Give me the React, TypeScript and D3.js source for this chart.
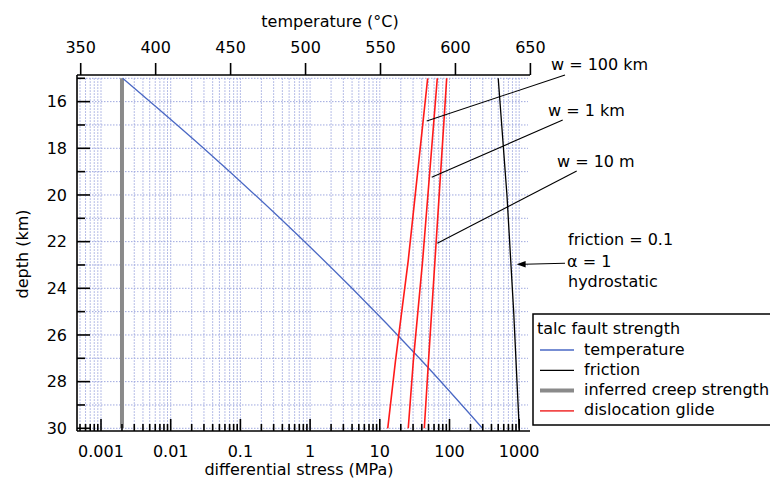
import React from "react";
import * as d3 from "d3";

// Talc fault strength profile vs. depth
const tempDepth = [15, 18, 21, 24, 27, 30];
const tempC = [378, 432, 483, 531, 576, 618];

const frictionDepth = [15, 20, 25, 30];
const frictionMPa = [500, 667, 833, 1000];

const creepDepth = [15, 30];
const creepMPa = [0.002, 0.002];

const glideDepth = [15, 22.8, 27.1, 30];
const glide100km = [48.6, 25.6, 16.8, 13.0];
const glide1km = [66.8, 41.2, 30.3, 25.6];
const glide10m = [91.2, 61.9, 50.0, 43.5];

const tempTicks = [350, 400, 450, 500, 550, 600, 650];
const stressTicks = [0.001, 0.01, 0.1, 1, 10, 100, 1000];
const stressTickLabels = ["0.001", "0.01", "0.1", "1", "10", "100", "1000"];
const depthTicks = d3.range(15, 31);
const depthTickLabels = [16, 18, 20, 22, 24, 26, 28, 30];

// leader anchors: [stress MPa, depth km]
const glideLabels = ["w = 100 km", "w = 1 km", "w = 10 m"];
const glideAnchors: [number, number][] = [
  [47.1, 16.83],
  [55.6, 19.24],
  [66.8, 22.07],
];
const frictionArrowTip: [number, number] = [918, 22.97];

const FONT = "'DejaVu Sans', 'Lucida Grande', sans-serif";
const BLUE = "#4a68c4";
const RED = "#ff1a1a";
const GRID = "#6070cc";

export default function App() {
  const W = 770;
  const H = 483;
  const left = 77;
  const right = 530;
  const top = 75;
  const bottom = 431;

  const y = d3.scaleLinear().domain([15, 30]).range([78.3, 428.3]);
  const x = d3.scaleLog().domain([0.001, 1000]).range([101, 519.2]);
  const t = d3.scaleLinear().domain([350, 650]).range([80.7, 530.4]);

  const allStress = d3
    .scaleLog()
    .domain([x.invert(left + 0.5), x.invert(right - 0.5)])
    .ticks();
  const isMajor = (v: number) =>
    Math.abs(Math.log10(v) - Math.round(Math.log10(v))) < 1e-6;

  const stressLine = (vals: number[], depths: number[]) =>
    d3
      .line<number>()
      .x((v) => x(v))
      .y((_, i) => y(depths[i]))(vals) || "";

  const tempPath =
    d3
      .line<number>()
      .x((v) => t(v))
      .y((_, i) => y(tempDepth[i]))
      .curve(d3.curveMonotoneY)(tempC) || "";

  const labelPos = [
    { tx: 551, ty: 70, lx: 565, ly: 75 },
    { tx: 548, ty: 116, lx: 562.7, ly: 120 },
    { tx: 557, ty: 166.5, lx: 576.7, ly: 171 },
  ];

  const tipX = x(frictionArrowTip[0]);
  const tipY = y(frictionArrowTip[1]);

  return (
    <svg
      width={W}
      height={H}
      style={{ position: "absolute", left: 0, top: 0, background: "#fff" }}
      fontFamily={FONT}
    >
      <rect x={0} y={0} width={W} height={H} fill="#fff" />

      {/* grid */}
      <g stroke={GRID} strokeWidth={1} strokeDasharray="1.5 1.5" opacity={0.6}>
        {allStress.map((v, i) => (
          <line key={"gx" + i} x1={x(v)} x2={x(v)} y1={y(15)} y2={y(30)} />
        ))}
        {depthTicks.map((d) => (
          <line key={"gy" + d} x1={left} x2={528} y1={y(d)} y2={y(d)} />
        ))}
      </g>

      {/* series */}
      <path
        d={stressLine(creepMPa, creepDepth)}
        stroke="#8a8a8a"
        strokeWidth={4}
        fill="none"
      />
      <path d={tempPath} stroke={BLUE} strokeWidth={1.3} fill="none" />
      {[glide100km, glide1km, glide10m].map((g, i) => (
        <path
          key={"gl" + i}
          d={stressLine(g, glideDepth)}
          stroke={RED}
          strokeWidth={1.6}
          fill="none"
        />
      ))}
      <path
        d={stressLine(frictionMPa, frictionDepth)}
        stroke="#000"
        strokeWidth={1.3}
        fill="none"
      />

      {/* frame */}
      <g stroke="#000" strokeWidth={1.6} fill="none">
        <line x1={left} x2={right} y1={top} y2={top} />
        <line x1={left} x2={right} y1={bottom} y2={bottom} />
        <line x1={left} x2={left} y1={top} y2={bottom} />
      </g>

      {/* top temperature axis */}
      <g stroke="#000" strokeWidth={1.6}>
        {tempTicks.map((v) => (
          <line key={"tt" + v} x1={t(v)} x2={t(v)} y1={top} y2={top - 12} />
        ))}
      </g>
      <g fontSize={16} textAnchor="middle" fill="#000">
        {tempTicks.map((v) => (
          <text key={"tl" + v} x={t(v)} y={53}>
            {v}
          </text>
        ))}
      </g>
      <text x={330} y={27} fontSize={16} textAnchor="middle">
        temperature (°C)
      </text>

      {/* bottom stress axis */}
      <g stroke="#000" strokeWidth={1.6}>
        {allStress.map((v, i) => (
          <line
            key={"bt" + i}
            x1={x(v)}
            x2={x(v)}
            y1={bottom}
            y2={bottom - (isMajor(v) ? 12 : 7)}
          />
        ))}
      </g>
      <g fontSize={16} textAnchor="middle">
        {stressTicks.map((v, i) => (
          <text key={"bl" + v} x={x(v)} y={457}>
            {stressTickLabels[i]}
          </text>
        ))}
      </g>
      <text x={299} y={475} fontSize={16} textAnchor="middle">
        differential stress (MPa)
      </text>

      {/* left depth axis */}
      <g stroke="#000" strokeWidth={1.6}>
        {depthTicks.map((d) => (
          <line
            key={"lt" + d}
            x1={left}
            x2={left + (d % 2 === 0 ? 13 : 8)}
            y1={y(d)}
            y2={y(d)}
          />
        ))}
      </g>
      <g fontSize={16} textAnchor="end">
        {depthTickLabels.map((d) => (
          <text key={"ll" + d} x={67} y={y(d)} dy="0.36em">
            {d}
          </text>
        ))}
      </g>
      <text
        transform="translate(28,254) rotate(-90)"
        fontSize={16}
        textAnchor="middle"
      >
        depth (km)
      </text>

      {/* glide labels with leaders */}
      {glideLabels.map((lab, i) => (
        <g key={"ann" + i}>
          <line
            x1={labelPos[i].lx}
            y1={labelPos[i].ly}
            x2={x(glideAnchors[i][0])}
            y2={y(glideAnchors[i][1])}
            stroke="#000"
            strokeWidth={1.1}
          />
          <text x={labelPos[i].tx} y={labelPos[i].ty} fontSize={16}>
            {lab}
          </text>
        </g>
      ))}

      {/* friction annotation */}
      <text x={568} y={245} fontSize={16}>
        friction = 0.1
      </text>
      <text x={567} y={267} fontSize={16}>
        α = 1
      </text>
      <text x={568} y={287} fontSize={16}>
        hydrostatic
      </text>
      <line
        x1={565}
        y1={263.3}
        x2={tipX + 7}
        y2={tipY}
        stroke="#000"
        strokeWidth={1.1}
      />
      <path
        d={`M${tipX},${tipY} L${tipX + 9},${tipY - 3.2} L${tipX + 9},${tipY + 3.2} Z`}
        fill="#000"
      />

      {/* legend */}
      <rect
        x={533}
        y={314}
        width={260}
        height={111}
        fill="#fff"
        stroke="#000"
        strokeWidth={1.5}
      />
      <text x={537} y={333.5} fontSize={16}>
        talc fault strength
      </text>
      {[
        { label: "temperature", color: BLUE, w: 1.3 },
        { label: "friction", color: "#000", w: 1.3 },
        { label: "inferred creep strength", color: "#8a8a8a", w: 4 },
        { label: "dislocation glide", color: "#f24a4a", w: 1.6 },
      ].map((it, i) => (
        <g key={"lg" + i}>
          <line
            x1={540}
            x2={574}
            y1={350 + i * 20.3}
            y2={350 + i * 20.3}
            stroke={it.color}
            strokeWidth={it.w}
          />
          <text x={584} y={354.5 + i * 20.3} fontSize={16}>
            {it.label}
          </text>
        </g>
      ))}
    </svg>
  );
}
